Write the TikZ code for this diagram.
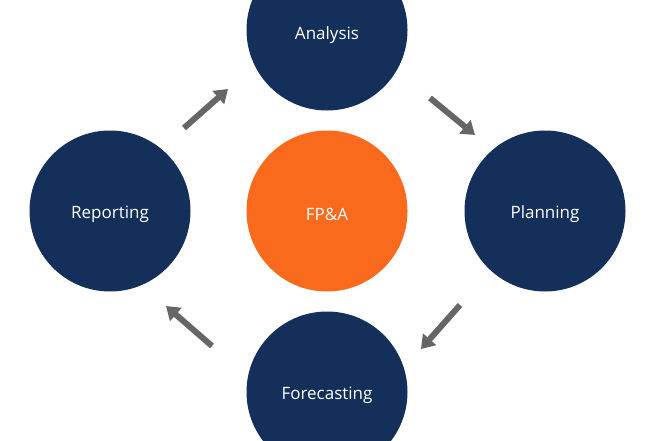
\documentclass[tikz,border=0pt]{standalone}
\usepackage{fontspec}
\setmainfont{Open Sans}
\usetikzlibrary{arrows.meta}
\definecolor{navy}{HTML}{14305A}
\definecolor{fporange}{HTML}{F96A1D}
\definecolor{arrowgray}{HTML}{666666}
\begin{document}
\begin{tikzpicture}[x=1pt,y=1pt,
  stage/.style={circle,fill=navy,minimum size=161pt,inner sep=0pt},
  core/.style={stage,fill=fporange},
  lbl/.style={text=white,font=\fontsize{17}{20}\selectfont},
  flow/.style={draw=arrowgray,line width=6pt,-{Triangle[length=13pt,width=17pt]}}]
\useasboundingbox (0,0) rectangle (660,440);
\begin{scope}
\clip (0,0) rectangle (660,440);
\node[stage] (analysis) at (327,410) {};
\node[stage] (reporting) at (110,229) {};
\node[core] (fpa) at (327,229) {};
\node[stage] (planning) at (545,229) {};
\node[stage] (forecasting) at (327,48) {};
\end{scope}
\node[lbl] (analysislbl) at (327,405) {Analysis};
\node[lbl] (reportinglbl) at ([yshift=-3.5pt]reporting) {Reporting};
\node[lbl] (fpalbl) at ([yshift=-3.5pt]fpa) {FP\&A};
\node[lbl] (planninglbl) at ([yshift=-3.5pt]planning) {Planning};
\node[lbl] (forecastinglbl) at (327,45) {Forecasting};
\coordinate (a1s) at (184,312); \coordinate (a1e) at (228,351);
\coordinate (a2s) at (430,342); \coordinate (a2e) at (475,305);
\coordinate (a3s) at (460,135); \coordinate (a3e) at (421,91);
\coordinate (a4s) at (212,94); \coordinate (a4e) at (166,134);
\draw[flow] (a1s) -- (a1e);
\draw[flow] (a2s) -- (a2e);
\draw[flow] (a3s) -- (a3e);
\draw[flow] (a4s) -- (a4e);
\end{tikzpicture}
\end{document}
